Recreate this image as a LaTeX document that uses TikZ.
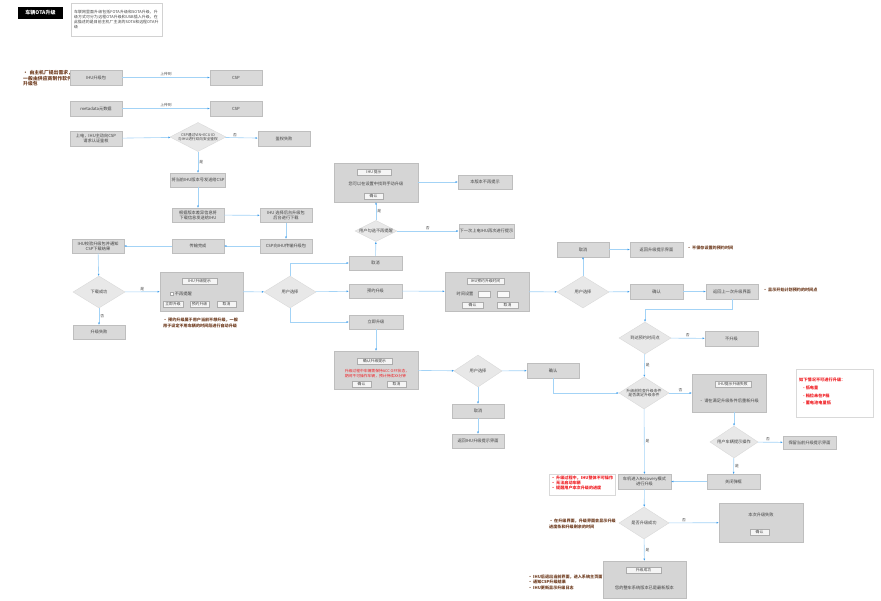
\documentclass[tikz,border=0pt]{standalone}
\usepackage{fontspec}
\newfontfamily\cjk{Noto Sans CJK SC}
\XeTeXlinebreaklocale "zh"
\XeTeXlinebreakskip=0pt plus 1pt
\usetikzlibrary{arrows.meta,shapes.geometric}

\definecolor{boxfill}{HTML}{D9D9D9}
\definecolor{boxline}{HTML}{BEBEBE}
\definecolor{panelfill}{HTML}{D5D5D5}
\definecolor{diafill}{HTML}{E8E8E8}
\definecolor{flowblue}{HTML}{A3D3F6}
\definecolor{tipblue}{HTML}{3F9DEA}
\definecolor{notebrown}{HTML}{6E3B1E}
\definecolor{alertred}{HTML}{F01E23}

\begin{document}
\begin{tikzpicture}[x=1pt, y=-1pt,
  every node/.style={font=\cjk\fontsize{4.2}{5}\selectfont, text=black!75},
  box/.style={draw=boxline, fill=boxfill, minimum width=52, minimum height=14.5, inner sep=1, align=center},
  panel/.style={draw=boxline, fill=panelfill, inner sep=0},
  btn/.style={draw=gray!65, fill=gray!8, inner sep=0.6, minimum height=6, font=\cjk\fontsize{3.8}{4}\selectfont},
  dia/.style={diamond, draw=gray!30, fill=diafill, aspect=1.7, inner sep=0, minimum width=52, minimum height=32, align=center},
  flow/.style={draw=flowblue, line width=0.6pt, -{Latex[length=2.2pt, width=2pt, color=tipblue]}},
  yn/.style={font=\cjk\fontsize{3.8}{4}\selectfont, text=black!70, inner sep=1},
  note/.style={font=\cjk\bfseries\fontsize{4.1}{5.6}\selectfont, text=notebrown, align=left, anchor=north west, inner sep=0},
  alert/.style={font=\cjk\bfseries\fontsize{4.1}{5.2}\selectfont, text=alertred, align=left}]
	\useasboundingbox (0,0) rectangle (881,600);

	% title and description
	\node[fill=black, text=white, minimum width=45, minimum height=10, font=\cjk\bfseries\fontsize{5}{6}\selectfont] (title) at (40.5,13) {车辆OTA升级};
	\node[draw=gray!35, fill=white, text width=85, minimum height=33, inner sep=3, align=left, font=\cjk\fontsize{3.9}{5}\selectfont] (descBox) at (116.5,19.5) {车联网里面升级包括FOTA升级和SOTA升级，升级方式可分为远程OTA升级和USB插入升级，在此描述的是目前主机厂主流的SOTA和远程OTA升级};
	\node[note, text width=50, font=\cjk\bfseries\fontsize{4.8}{5.8}\selectfont] (srcNote) at (23,70) {• 由主机厂提出需求，一般由供应商制作软件升级包};

	% upload and authentication
	\node[box] (ihuPkg) at (96,77.5) {IHU升级包};
	\node[box] (cspA) at (236,77.5) {CSP};
	\node[box] (metaData) at (96,108.5) {metadata元数据};
	\node[box] (cspB) at (236,108.5) {CSP};
	\node[box] (powerOn) at (96,138.5) {上电，IHU主动向CSP\\请求认证鉴权};
	\node[dia, minimum width=56, minimum height=29, aspect=1.9, font=\cjk\fontsize{3.7}{4.4}\selectfont] (authChk) at (198,137) {CSP通过VIN+ECU ID\\与IHU进行双向安全鉴权};
	\node[box] (authFail) at (284,138.5) {鉴权失败};
	\node[box, minimum height=14] (sendVer) at (198,180) {将当前IHU版本号发送给CSP};
	\node[box, minimum height=14] (diffInfo) at (198,215) {根据版本差异信息将\\下载信息发送给IHU};
	\node[box, minimum height=14] (bgLoad) at (286,215.5) {IHU 选择后台升级包\\后台进行下载};
	\node[box, minimum height=14] (transfer) at (286,246) {CSP向IHU传输升级包};
	\node[box, minimum height=14] (txDone) at (198,246) {传输完成};
	\node[box, minimum height=14] (verify) at (98,246) {IHU校验升级包并通知\\CSP下载结果};
	\node[dia] (dlOk) at (99,292) {下载成功};
	\node[box, minimum height=14] (upFail) at (99,332) {升级失败};

	% upgrade prompt
	\node[panel, minimum width=83, minimum height=39] (tipPanel) at (201.5,291.5) {};
	\node[btn, minimum width=35] (tipHead) at (199.5,281.5) {IHU 升级提示};
	\node[draw=gray!70, fill=white, minimum size=3, inner sep=0] (tipCheck) at (171.5,294) {};
	\node[anchor=west, inner sep=1.5] (tipCheckTxt) at (tipCheck.east) {不再提醒};
	\node[btn, minimum width=20] (tipNow) at (173,304.5) {立即升级};
	\node[btn, minimum width=19] (tipLater) at (199.5,304.5) {预约升级};
	\node[btn, minimum width=19] (tipCancel) at (226.5,304.5) {取消};
	\node[note] (laterNote) at (163,318) {• 预约升级属于用户当前不想升级，一般\\用于设定不用车辆的时间段进行自动升级};
	\node[dia] (pickA) at (290,292) {用户选择};
	\node[box, minimum width=53, minimum height=14] (cancelA) at (375.5,263) {取消};
	\node[box, minimum width=53, minimum height=14] (laterA) at (375.5,291) {预约升级};
	\node[box, minimum width=54, minimum height=14] (nowA) at (376,322) {立即升级};

	% cancel branch
	\node[dia, minimum width=42, minimum height=21, aspect=2] (remind) at (376,231) {用户勾选不再提醒};
	\node[panel, minimum width=84, minimum height=39] (hintPanel) at (376,182.5) {};
	\node[btn, minimum width=34] (hintHead) at (374,172.5) {IHU 提示};
	\node (hintTxt) at (376,184) {您可以在设置中找到手动升级};
	\node[btn, minimum width=19] (hintOk) at (373.5,196) {确认};
	\node[box, minimum width=54, minimum height=14] (noRemind) at (485,182) {本版本不再提示};
	\node[box, minimum width=53, minimum height=14] (nextBoot) at (486.5,231) {下一次上电IHU再次进行提示};

	% schedule branch
	\node[panel, minimum width=84, minimum height=39] (schedPanel) at (487,291.5) {};
	\node[btn, minimum width=37] (schedHead) at (485.5,281.5) {IHU预约升级时间};
	\node (schedTxt) at (465,294) {时间设置};
	\node[btn, fill=gray!5, minimum width=12] (schedDate) at (484,294) {};
	\node[btn, fill=gray!5, minimum width=12] (schedTime) at (503,294) {};
	\node[btn, minimum width=21] (schedOk) at (472.5,305) {确认};
	\node[btn, minimum width=21] (schedCancel) at (507.5,305) {取消};
	\node[dia] (pickB) at (583,292) {用户选择};
	\node[box] (cancelB) at (583,249.5) {取消};
	\node[box, minimum width=53] (backTip) at (656.5,249.5) {返回升级提示界面};
	\node[note, anchor=west] (keepNote) at (687,248) {• 不保存设置的预约时间};
	\node[box, minimum width=53] (okB) at (656.5,291.5) {确认};
	\node[box] (backLast) at (732,291.5) {返回上一次升级界面};
	\node[note, anchor=west] (timeNote) at (763,290) {• 显示开始计划预约的时间点};
	\node[dia] (arrive) at (645,338) {到达预约时间点};
	\node[box, minimum width=53] (noUp) at (731.5,338.5) {不升级};

	% upgrade now branch
	\node[panel, minimum width=84, minimum height=38] (confPanel) at (376,370) {};
	\node[btn, minimum width=35] (confHead) at (374.5,361) {确认升级提示};
	\node[alert, font=\cjk\fontsize{3.8}{5}\selectfont] (confTxt) at (377,373.5) {升级过程中车辆需保持ACC OFF状态，\\期间不可操作车辆，预计持续XX分钟};
	\node[btn, minimum width=19] (confOk) at (361.5,384.5) {确认};
	\node[btn, minimum width=19] (confCancel) at (396.5,384.5) {取消};
	\node[dia, minimum width=48] (pickC) at (478,371) {用户选择};
	\node[box] (okC) at (553,370.5) {确认};
	\node[box, minimum height=14] (cancelC) at (478,411) {取消};
	\node[box, minimum height=14] (backIhu) at (478,441) {返回IHU升级提示界面};

	% condition check and install
	\node[dia, minimum width=50, font=\cjk\fontsize{3.9}{4.6}\selectfont] (cond) at (644,393) {升级前检查升级条件\\是否满足升级条件};
	\node[panel, minimum width=74, minimum height=38] (failPanel) at (729,393) {};
	\node[btn, minimum width=36] (failHead) at (733,384) {IHU提示升级失败};
	\node (failTxt) at (729,401) {• 请在满足升级条件后重新升级};
	\node[draw=gray!30, fill=white, minimum width=77, minimum height=48] (ruleBox) at (834.5,393) {};
	\node[alert, anchor=north west, inner sep=0, font=\cjk\bfseries\fontsize{4.2}{7.6}\selectfont] (ruleTxt) at (799,378) {如下情况不可进行升级：\\\hspace*{4pt}- 低电量\\\hspace*{4pt}- 档位未在P档\\\hspace*{4pt}- 蓄电池电量低};
	\node[dia, minimum width=48] (userOp) at (734,442) {用户车辆提示操作};
	\node[box, minimum width=53, minimum height=13] (keepTip) at (809.5,442.5) {保留当前升级提示界面};
	\node[box, minimum width=53] (closeBox) at (733.5,481.5) {关闭弹框};
	\node[box, minimum width=53] (recovery) at (644.5,481.5) {车机进入Recovery模式\\进行升级};
	\node[draw=gray!30, fill=white, minimum width=66, minimum height=21] (riskBox) at (582,484.5) {};
	\node[alert, anchor=north west, inner sep=0] (riskNote) at (551,475.5) {• 升级过程中，IHU整体不可操作\\• 无法启动车辆\\• 提醒用户本次升级的进度};

	% result
	\node[dia, minimum width=50] (okQ) at (644,523) {是否升级成功};
	\node[note] (progNote) at (549,519) {• 在升级界面，升级界面会显示升级\\进度条和升级剩余的时间};
	\node[panel, minimum width=84, minimum height=39] (failPanelB) at (761,522.5) {};
	\node (failTxtB) at (761,515) {本次升级失败};
	\node[btn, minimum width=19] (failOkB) at (759.5,532.5) {确认};
	\node[panel, minimum width=83, minimum height=37] (succPanel) at (644.5,579.5) {};
	\node[btn, minimum width=35] (succHead) at (643.5,570.5) {升级成功};
	\node (succTxt) at (644.5,588) {您的整车系统版本已是最新版本};
	\node[note] (doneNote) at (528,574.5) {• IHU后退出当前界面，进入系统主页面\\• 通知CSP升级结果\\• IHU更新显示升级日志};

	% connectors
	\draw[flow] (ihuPkg) -- node[yn, above] {上传到} (cspA);
	\draw[flow] (metaData) -- node[yn, above] {上传到} (cspB);
	\draw[flow] (powerOn) -- (authChk);
	\draw[flow] (authChk) -- node[yn, above, pos=0.3] {否} (authFail);
	\draw[flow] (authChk) -- node[yn, right] {是} (sendVer);
	\draw[flow] (sendVer) -- (diffInfo);
	\draw[flow] (diffInfo) -- (bgLoad);
	\draw[flow] (bgLoad) -- (transfer);
	\draw[flow] (transfer) -- (txDone);
	\draw[flow] (txDone) -- (verify);
	\draw[flow] (verify) -- (dlOk);
	\draw[flow] (dlOk) -- node[yn, right] {否} (upFail);
	\draw[flow] (dlOk) -- node[yn, above] {是} (tipPanel);
	\draw[flow] (tipPanel) -- (pickA);
	\draw[flow] (pickA.north) |- (cancelA.west);
	\draw[flow] (pickA) -- (laterA);
	\draw[flow] (pickA.south) |- (nowA.west);
	\draw[flow] (cancelA) -- (remind);
	\draw[flow] (remind) -- node[yn, right] {是} (hintPanel);
	\draw[flow] (remind) -- node[yn, above] {否} (nextBoot);
	\draw[flow] (hintPanel.east |- noRemind) -- (noRemind);
	\draw[flow] (laterA) -- (schedPanel);
	\draw[flow] (schedPanel) -- (pickB);
	\draw[flow] (pickB) -- (cancelB);
	\draw[flow] (cancelB) -- (backTip);
	\draw[flow] (pickB) -- (okB);
	\draw[flow] (okB) -- (backLast);
	\draw[flow] (backLast.south) -- ++(0,10) -| (arrive.north);
	\draw[flow] (arrive) -- node[yn, above] {否} (noUp);
	\draw[flow] (arrive) -- node[yn, right] {是} (cond);
	\draw[flow] (nowA) -- (confPanel);
	\draw[flow] (confPanel) -- (pickC);
	\draw[flow] (pickC) -- (okC);
	\draw[flow] (pickC) -- (cancelC);
	\draw[flow] (cancelC) -- (backIhu);
	\draw[flow] (okC.south) |- (cond.west);
	\draw[flow] (cond) -- node[yn, above] {否} (failPanel);
	\draw[flow] (userOp |- failPanel.south) -- (userOp);
	\draw[flow] (userOp) -- node[yn, above, pos=0.4] {否} (keepTip);
	\draw[flow] (userOp) -- node[yn, right] {是} (closeBox);
	\draw[flow] (closeBox) -- (recovery);
	\draw[flow] (cond) -- node[yn, right] {是} (recovery);
	\draw[flow] (recovery) -- (okQ);
	\draw[flow] (okQ) -- node[yn, above, pos=0.3] {否} (failPanelB);
	\draw[flow] (okQ) -- node[yn, right] {是} (succPanel);
\end{tikzpicture}
\end{document}
